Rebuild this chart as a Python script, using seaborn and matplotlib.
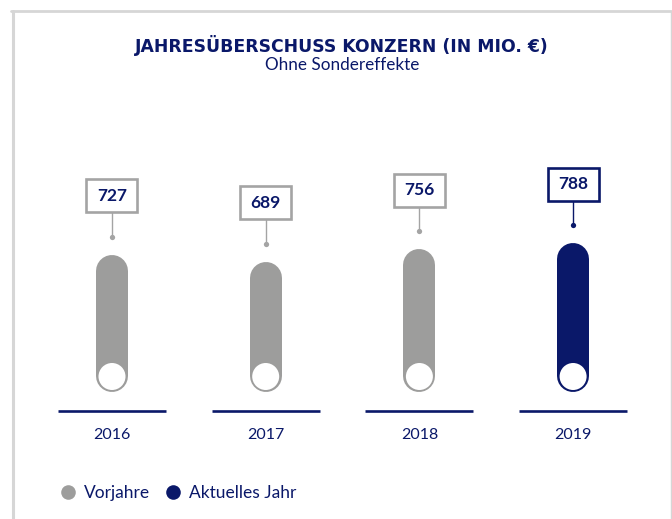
import numpy as np
import pandas as pd
import matplotlib
matplotlib.use("Agg")
import matplotlib.pyplot as plt
import seaborn as sns
from matplotlib.lines import Line2D
from matplotlib.patches import Rectangle

# ---- data ----
years = ["2016", "2017", "2018", "2019"]
values = [727, 689, 756, 788]
status = ["Vorjahre", "Vorjahre", "Vorjahre", "Aktuelles Jahr"]
legend_labels = ["Vorjahre", "Aktuelles Jahr"]
title = "JAHRESÜBERSCHUSS KONZERN (IN MIO. €)"
subtitle = "Ohne Sondereffekte"

# ---- style ----
GRAY = "#9d9d9c"
NAVY = "#0a1869"
BOXGRAY = "#a4a4a4"
FRAME = "#d6d6d6"
palette = {"Vorjahre": GRAY, "Aktuelles Jahr": NAVY}
boxcol = {"Vorjahre": BOXGRAY, "Aktuelles Jahr": NAVY}

sns.set_theme(style="white")
plt.rcParams['font.family'] = ['Lato', 'DejaVu Sans']

W, H = 672, 519
fig = plt.figure(figsize=(W / 100, H / 100), dpi=100)
ax = fig.add_axes([0, 0, 1, 1])

df = pd.DataFrame({"Jahr": years, "Wert": values, "Status": status})
sns.barplot(data=df, x="Jahr", y="Wert", hue="Status", palette=palette,
            dodge=False, width=0.2, legend=False, ax=ax)

# pixel mapping
base_px = 392.0   # baseline from top
ppu = 0.189       # pixels per value unit
x0_px = 112.0
step = 153.7
ax.set_xlim(-x0_px / step, (W - x0_px) / step)
ax.set_ylim(-(H - base_px) / ppu, base_px / ppu)
ax.axis("off")

def dx(px):
    return px / step

def dy(px):
    return px / ppu

bar_w_px = 32
for p in list(ax.patches):
    h = p.get_height()
    if not np.isfinite(h) or h == 0:
        p.set_visible(False)
        continue
    cx = p.get_x() + p.get_width() / 2
    i = int(round(cx))
    col = palette[status[i]]
    bcol = boxcol[status[i]]
    p.set_visible(False)
    r = dy(bar_w_px / 2)
    ax.plot([cx, cx], [r, h - r], color=col, lw=bar_w_px * 0.72,
            solid_capstyle="round", zorder=3)
    ax.scatter([cx], [dy(15.5)], s=(27 * 0.72) ** 2, c="white",
               edgecolors="none", zorder=4)
    # connector + dot
    ax.plot([cx, cx], [h + dy(18), h + dy(42)], color=bcol, lw=1.0, zorder=3)
    ax.plot([cx], [h + dy(18)], marker="o", ms=3.8, color=bcol,
            mec="none", zorder=4)
    # label box
    bw, bh = 51, 33
    ax.add_patch(Rectangle((cx - dx(bw / 2), h + dy(42.5)), dx(bw), dy(bh),
                           fc="white", ec=bcol, lw=1.9, zorder=5))
    ax.text(cx, h + dy(59), f"{values[i]}", ha="center", va="center",
            fontsize=12.5, fontweight="bold", color=NAVY, zorder=6)
    # baseline + year
    ax.plot([cx - dx(54), cx + dx(54)], [-dy(19), -dy(19)], color=NAVY,
            lw=1.9, solid_capstyle="butt", zorder=3)
    ax.text(cx, -dy(43), years[i], ha="center", va="center",
            fontsize=11.5, color=NAVY)

# title
fig.text(342 / W, 1 - 46 / H, title, ha="center", va="center",
         fontsize=12.4, fontweight="bold", color=NAVY,
         family=["DejaVu Sans"])
fig.text(342 / W, 1 - 65.5 / H, subtitle, ha="center", va="center",
         fontsize=12.3, color=NAVY)

# frame lines
fig.add_artist(Line2D([12.5 / W, 12.5 / W], [0, 1 - 11 / H], color=FRAME,
                      lw=2.2, transform=fig.transFigure))
fig.add_artist(Line2D([11 / W, 671 / W], [1 - 11 / H, 1 - 11 / H], color=FRAME,
                      lw=2.0, transform=fig.transFigure))
fig.add_artist(Line2D([670.5 / W, 670.5 / W], [0, 1 - 11 / H], color=FRAME,
                      lw=1.0, transform=fig.transFigure))

# legend
handles = [Line2D([], [], marker="o", ls="none", ms=10.5, color=palette[l], mec="none")
           for l in legend_labels]
leg = fig.legend(handles, legend_labels, loc="center left",
                 bbox_to_anchor=(59.3 / W, 1 - 493 / H), ncol=2, frameon=False,
                 fontsize=12.5, handletextpad=0.42, columnspacing=0.82,
                 handlelength=1.0, borderaxespad=0, borderpad=0)
for t in leg.get_texts():
    t.set_color(NAVY)

fig.savefig("out.png", dpi=100)
